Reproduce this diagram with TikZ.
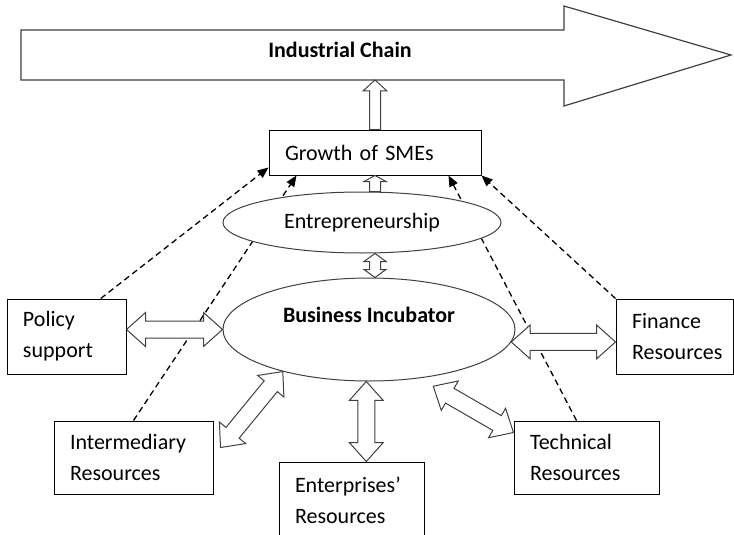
\documentclass[tikz,border=0pt]{standalone}
\usepackage{fontspec}
\setmainfont{Carlito}
\usetikzlibrary{arrows.meta,calc,shapes.geometric,positioning}
\tikzset{
    box/.style={draw,rectangle,line width=1pt,inner xsep=16pt,inner ysep=0pt,align=left},
    blob/.style={draw=black!75,ellipse,line width=1pt,fill=white,inner sep=0pt},
    hint/.style={line width=1.3pt,dash pattern=on 6pt off 4pt,-{Triangle[length=11pt,width=9pt]}},
    oneway/.style args={#1/#2/#3}{draw=black!75,fill=white,line width=1pt,line join=miter,to path={
        ($(\tikztostart)!#1!90:(\tikztotarget)$)
        -- ($(\tikztotarget)!#3!(\tikztostart)!#1!-90:(\tikztostart)$)
        -- ($(\tikztotarget)!#3!(\tikztostart)!#2!-90:(\tikztostart)$)
        -- (\tikztotarget)
        -- ($(\tikztotarget)!#3!(\tikztostart)!#2!90:(\tikztostart)$)
        -- ($(\tikztotarget)!#3!(\tikztostart)!#1!90:(\tikztostart)$)
        -- ($(\tikztostart)!#1!-90:(\tikztotarget)$) -- cycle}},
    twoway/.style args={#1/#2/#3}{draw=black!75,fill=white,line width=1pt,line join=miter,to path={
        -- ($(\tikztostart)!#3!(\tikztotarget)!#2!90:(\tikztotarget)$)
        -- ($(\tikztostart)!#3!(\tikztotarget)!#1!90:(\tikztotarget)$)
        -- ($(\tikztotarget)!#3!(\tikztostart)!#1!-90:(\tikztostart)$)
        -- ($(\tikztotarget)!#3!(\tikztostart)!#2!-90:(\tikztostart)$)
        -- (\tikztotarget)
        -- ($(\tikztotarget)!#3!(\tikztostart)!#2!90:(\tikztostart)$)
        -- ($(\tikztotarget)!#3!(\tikztostart)!#1!90:(\tikztostart)$)
        -- ($(\tikztostart)!#3!(\tikztotarget)!#1!-90:(\tikztotarget)$)
        -- ($(\tikztostart)!#3!(\tikztotarget)!#2!-90:(\tikztotarget)$) -- cycle}},
}

\begin{document}
\begin{tikzpicture}[x=1pt,y=-1pt,font=\fontsize{22}{31}\selectfont,
    chain arrow/.style={draw=black!75,line width=1.2pt,fill=white},
    heavy/.style={font=\fontsize{22}{31}\selectfont\bfseries},
    big/.style={twoway=8.5pt/17pt/19pt}]
    \useasboundingbox (0,0) rectangle (734,535);

    \draw[chain arrow] (21,30) -- (564,30) -- (564,6) -- (731,55) -- (564,106) -- (564,80) -- (21,80) -- cycle;
    \node[heavy] (chain) at (340,50) {Industrial Chain};
    \coordinate (chainfoot) at (375,80);

    \node[box,text width=180pt,minimum height=45pt] (gro) at (375,152.5) {Growth of SMEs};
    \node[box,text width=87pt,minimum height=75pt] (pol) at (66.5,336.5) {Policy\\support};
    \node[box,text width=85pt,minimum height=75pt] (fin) at (674.5,336.5) {Finance\\Resources};
    \node[box,text width=127pt,minimum height=73pt] (int) at (133.5,457.5) {Intermediary\\Resources};
    \node[box,text width=113pt,minimum height=73pt] (tec) at (586.5,457.5) {Technical\\Resources};
    \node[box,text width=113pt,minimum height=76pt] (ent) at (351.5,500) {Enterprises'\\Resources};

    \draw[hint] (pol.48) -- ([yshift=8pt]gro.south west);
    \draw[hint] (int.north) -- ([xshift=28pt]gro.south west);
    \draw[hint] ([xshift=-10pt]tec.north) -- ([xshift=-33pt]gro.south east);
    \draw[hint] (fin.north west) -- (gro.south east);

    \node[blob,minimum width=278pt,minimum height=61pt] (entr) at (362,222.5) {Entrepreneurship};
    \node[blob,minimum width=292pt,minimum height=103pt,
        label={[heavy,yshift=15pt]center:Business Incubator}] (bi) at (369,329.5) {};

    \coordinate (intend) at ($(int.east)+(7,-10)$);
    \coordinate (tecend) at ([yshift=-12pt]tec.north west);
    \coordinate (bitec) at ([yshift=-10pt]bi.-36);

    \draw[oneway=5.5pt/12pt/11pt] (gro.north) to (chainfoot);
    \draw[oneway=5.5pt/11pt/6pt] (entr.north -| gro.south) to (gro.south);
    \draw[twoway=5.5pt/11pt/8pt] (entr.south -| gro.south) to (bi.north -| gro.south);
    \draw[big] (pol.east |- bi.west) to (bi.west);
    \draw[big] (bi.-5) to (fin.west |- bi.-5);
    \draw[big] (intend) to (bi.206);
    \draw[big] (bi.-93) to (bi.-93 |- ent.north);
    \draw[big] (bitec) to (tecend);
\end{tikzpicture}
\end{document}
